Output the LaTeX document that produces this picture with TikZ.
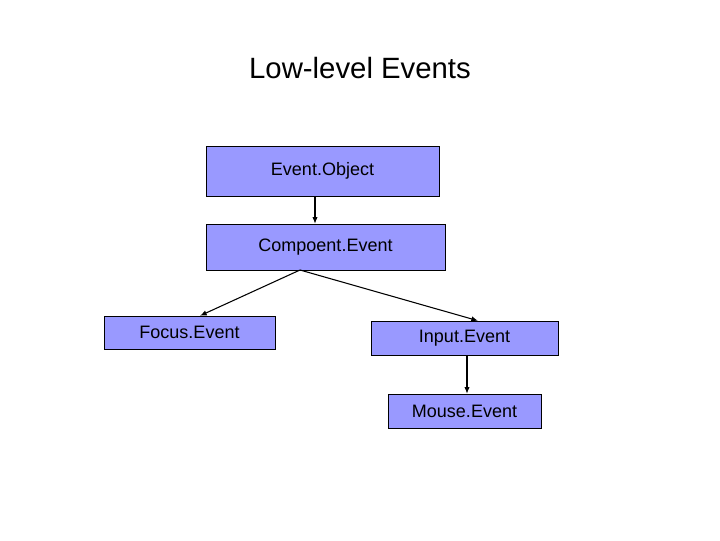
\documentclass[tikz,border=0pt]{standalone}
\usepackage{fontspec}
\setmainfont{Liberation Sans}
\begin{document}
\begin{tikzpicture}[x=0.75pt,y=-0.75pt,
  box/.style={draw=black,fill=blue!40!white!100,fill={rgb,255:red,153;green,153;blue,255},inner sep=0pt,font=\fontsize{13.5}{16}\selectfont},
  arr/.style={-{Latex[length=5pt,width=4pt]},thick}]
\usetikzlibrary{arrows.meta}
\useasboundingbox (0,0) rectangle (720,540);
\node[font=\fontsize{22}{26}\selectfont] (t) at (360,68) {Low-level Events};
\node[box,minimum width=233*0.75pt,minimum height=50*0.75pt] (eo) at (322.5,171) {Event.Object};
\node[box,minimum width=239*0.75pt,minimum height=46*0.75pt] (ce) at (325.5,247) {Compoent.Event};
\node[box,minimum width=171*0.75pt,minimum height=33*0.75pt] (fe) at (189.5,332.5) {Focus.Event};
\node[box,minimum width=187*0.75pt,minimum height=34*0.75pt] (ie) at (464.5,338) {Input.Event};
\node[box,minimum width=153*0.75pt,minimum height=34*0.75pt] (me) at (464.5,411) {Mouse.Event};
\coordinate (c) at (300,270);
\draw[arr] (eo.south -| 315,0) -- (ce.north -| 315,0);
\draw[arr] (c) -- (fe.north -| 200,0);
\draw[arr] (c) -- (ie.north -| 478,0);
\draw[arr] (ie.south -| 467,0) -- (me.north -| 467,0);
\end{tikzpicture}
\end{document}
